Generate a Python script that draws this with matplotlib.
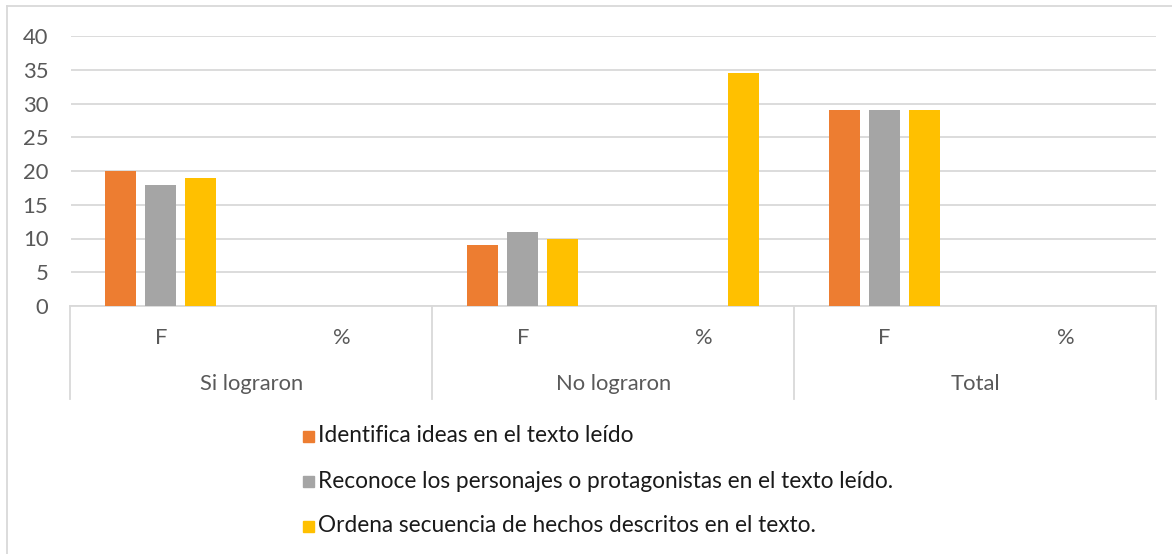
import matplotlib
matplotlib.use("Agg")
import matplotlib.pyplot as plt
from matplotlib.lines import Line2D
from matplotlib.patches import Rectangle
import numpy as np

plt.rcParams['font.family'] = ['Lato', 'DejaVu Sans']

groups = ["Si lograron", "No lograron", "Total"]
subcats = ["F", "%"]
series_names = ["Identifica ideas en el texto leído",
                "Reconoce los personajes o protagonistas en el texto leído.",
                "Ordena secuencia de hechos descritos en el texto."]
colors = ["#ED7D31", "#A5A5A5", "#FFC000"]
# values per category: Si F, Si %, No F, No %, Total F, Total %
identifica = [20, 0, 9, 0, 29, 0]
reconoce = [18, 0, 11, 0, 29, 0]
ordena = [19, 0, 10, 34.5, 29, 0]
yticks = [0, 5, 10, 15, 20, 25, 30, 35, 40]

W, H = 1172, 554
fig = plt.figure(figsize=(W / 100, H / 100), dpi=100)

def fx(px):
    return px / W

def fy(py):
    return 1 - py / H

left, right, top, bottom = 70.5, 1156, 36, 306
ax = fig.add_axes([fx(left), fy(bottom), fx(right) - fx(left), fy(top) - fy(bottom)])

n = len(identifica)
x = np.arange(n)
bw = 31 / ((right - left) / n)
step = 40 / ((right - left) / n)
data = [identifica, reconoce, ordena]
for i, (vals, c) in enumerate(zip(data, colors)):
    ax.bar(x + (i - 1) * step, vals, width=bw, color=c, zorder=3)

FS = 15.8
LFS = 16.3
ax.set_xlim(-0.5, n - 0.5)
ax.set_ylim(0, 40)
ax.set_yticks(yticks)
ax.yaxis.grid(True, color="#D9D9D9", linewidth=1.3, zorder=0)
ax.tick_params(axis='y', length=0, labelsize=FS, labelcolor="#595959", pad=16)
ax.set_xticks([])
for s in ["top", "right", "left"]:
    ax.spines[s].set_visible(False)
ax.spines["bottom"].set_color("#D9D9D9")
ax.spines["bottom"].set_linewidth(1.3)

# multi-level category axis
axh = bottom - top
sep_bottom = -(399 - bottom) / axh
trans = ax.get_xaxis_transform()
for gx in [-0.5, 1.5, 3.5, 5.5]:
    ax.add_line(Line2D([gx, gx], [0, sep_bottom], transform=trans,
                       color="#D9D9D9", linewidth=1.3, clip_on=False))
sub_y = -(338 - bottom) / axh
grp_y = -(384 - bottom) / axh
for i in range(n):
    ax.text(i, sub_y, subcats[i % 2], transform=trans, ha="center", va="center",
            fontsize=FS, color="#595959")
for g, name in enumerate(groups):
    ax.text(2 * g + 0.5, grp_y, name, transform=trans, ha="center", va="center",
            fontsize=FS, color="#595959")

# legend
leg_rows = [436, 481, 526]
for name, c, ry in zip(series_names, colors, leg_rows):
    fig.patches.append(Rectangle((fx(303), fy(ry + 5.5)), fx(11), 11 / H,
                                 transform=fig.transFigure, color=c))
    fig.text(fx(318), fy(ry), name, ha="left", va="center", fontsize=LFS,
             color="#1A1A1A")

# outer border (left & top only visible)
fig.add_artist(Line2D([fx(7), fx(7)], [fy(6), 0], transform=fig.transFigure,
                      color="#D9D9D9", linewidth=1.3))
fig.add_artist(Line2D([fx(7), 1], [fy(6), fy(6)], transform=fig.transFigure,
                      color="#D9D9D9", linewidth=1.3))

fig.savefig("out.png", dpi=100)
